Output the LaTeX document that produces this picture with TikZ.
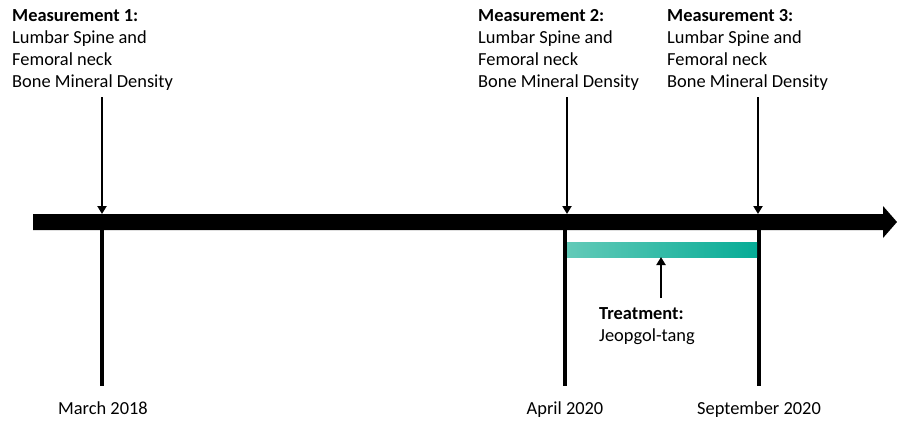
\documentclass[tikz,border=0pt]{standalone}
\usepackage{fontspec}
\setmainfont{Carlito}
\usetikzlibrary{arrows.meta}
\definecolor{tealL}{RGB}{98,202,184}
\definecolor{tealR}{RGB}{6,172,150}
\tikzset{
  lbl/.style={anchor=north west,inner sep=0pt,align=left,font=\fontsize{18.4}{22}\selectfont},
  datelbl/.style={anchor=base,inner sep=0pt,font=\fontsize{18.4}{22}\selectfont},
  pointer/.style={line width=2.5pt,-{Triangle[width=9pt,length=8pt]}},
  tick/.style={line width=3.5pt},
}
\begin{document}
\begin{tikzpicture}[x=1pt,y=-1pt]
\useasboundingbox (0,0) rectangle (897,421);
% timeline
\fill (33,214) -- (883,214) -- (883,206) -- (897,222) -- (883,238) -- (883,230) -- (33,230) -- cycle;
\coordinate (b1) at (102,214);
\coordinate (b2) at (567,214);
\coordinate (b3) at (758,214);
% labels
\node[lbl] (m1) at (12,9) {\textbf{Measurement 1:}\\Lumbar Spine and\\Femoral neck\\Bone Mineral Density};
\node[lbl] (m2) at (478,9) {\textbf{Measurement 2:}\\Lumbar Spine and\\Femoral neck\\Bone Mineral Density};
\node[lbl] (m3) at (667,9) {\textbf{Measurement 3:}\\Lumbar Spine and\\Femoral neck\\Bone Mineral Density};
\coordinate (a1) at (102,97);
\coordinate (a2) at (567,97);
\coordinate (a3) at (758,97);
\draw[pointer] (a1) -- (b1);
\draw[pointer] (a2) -- (b2);
\draw[pointer] (a3) -- (b3);
% ticks
\coordinate (t1a) at (102,230); \coordinate (t1b) at (102,386);
\coordinate (t2a) at (565,230); \coordinate (t2b) at (565,386);
\coordinate (t3a) at (759,230); \coordinate (t3b) at (759,386);
\draw[tick] (t1a) -- (t1b);
\draw[tick] (t2a) -- (t2b);
\draw[tick] (t3a) -- (t3b);
% dates
\node[datelbl] (d1) at (103,414) {March 2018};
\node[datelbl] (d2) at (565,414) {April 2020};
\node[datelbl] (d3) at (759,414) {September 2020};
% treatment
\shade[left color=tealL,right color=tealR] (567,242) rectangle (757,257);
\coordinate (tb) at (661,257);
\node[lbl] (tr) at (599,307) {\textbf{Treatment:}\\Jeopgol-tang};
\coordinate (ta) at (661,298);
\draw[pointer] (ta) -- (tb);
\end{tikzpicture}
\end{document}
